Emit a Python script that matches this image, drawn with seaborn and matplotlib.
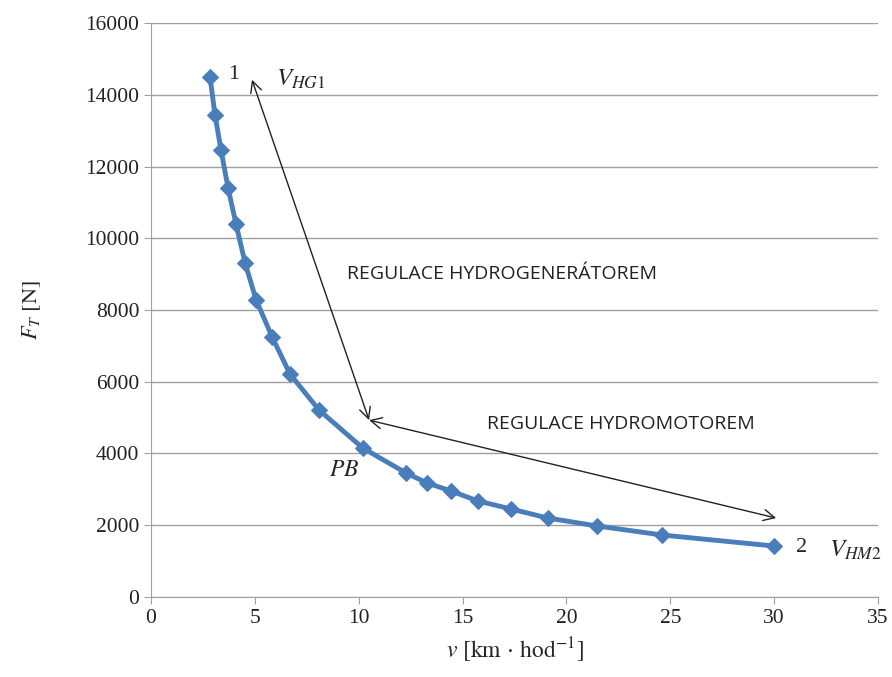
import matplotlib
matplotlib.use('Agg')
import matplotlib.pyplot as plt
import seaborn as sns
import pandas as pd

# rychlost v [km/h] a tazna sila F_T [N]
v = [2.84, 3.08, 3.37, 3.71, 4.09, 4.53, 5.06, 5.83, 6.69, 8.09, 10.2,
     12.28, 13.29, 14.44, 15.74, 17.33, 19.11, 21.47, 24.6, 30.0]
ft = [14500, 13440, 12460, 11400, 10400, 9310, 8280, 7250, 6215, 5210, 4150,
      3456, 3178, 2955, 2676, 2453, 2200, 1980, 1728, 1420]

arrow_hg = [(10.5, 4930), (4.86, 14420)]
arrow_hm = [(10.5, 4930), (30.1, 2200)]

sns.set_style('white')
plt.rcParams['mathtext.fontset'] = 'stix'
plt.rcParams['font.family'] = ['Liberation Serif', 'DejaVu Serif']

df = pd.DataFrame({'v': v, 'F': ft})

fig = plt.figure(figsize=(8.92, 6.77), dpi=100)
ax = fig.add_axes([0.1693, 0.1182, 0.815, 0.8478])

sns.lineplot(data=df, x='v', y='F', ax=ax, color='#4a7ebb', linewidth=3.5,
             marker='D', markersize=8, markeredgecolor='#4a7ebb')

ax.set_xlim(0, 35)
ax.set_ylim(0, 16000)
ax.set_xticks(range(0, 36, 5))
ax.set_yticks(range(0, 16001, 2000))
ax.yaxis.grid(True, color='#a0a0a0', linewidth=1)
ax.xaxis.grid(False)
for s in ['top', 'right']:
    ax.spines[s].set_visible(False)
for s in ['left', 'bottom']:
    ax.spines[s].set_color('#a0a0a0')
ax.tick_params(axis='both', direction='out', length=5, color='#a0a0a0',
               labelsize=15.5, labelcolor='#222222', left=True, bottom=True)
ax.set_xlabel(r'$v\ \mathrm{[km\,\cdot\,hod^{-1}]}$', fontsize=17, labelpad=6)
ax.set_ylabel(r'$F_T\ \mathrm{[N]}$', fontsize=16, labelpad=30)

ax.annotate('', xy=arrow_hg[1], xytext=arrow_hg[0],
            arrowprops=dict(arrowstyle='<->', color='#222222', lw=1,
                            mutation_scale=20, shrinkA=0, shrinkB=0))
ax.annotate('', xy=arrow_hm[1], xytext=arrow_hm[0],
            arrowprops=dict(arrowstyle='<->', color='#222222', lw=1,
                            mutation_scale=20, shrinkA=0, shrinkB=0))

sans = ['Open Sans', 'DejaVu Sans']
ax.text(16.9, 9000, 'REGULACE HYDROGENERÁTOREM', fontsize=14,
        family=sans, ha='center', va='center', color='#222222')
ax.text(22.6, 4820, 'REGULACE HYDROMOTOREM', fontsize=14,
        family=sans, ha='center', va='center', color='#222222')

ax.text(4.0, 14560, '1', fontsize=16, ha='center', va='center')
ax.text(7.2, 14420, r'$V_{HG1}$', fontsize=18, ha='center', va='center')
ax.text(9.3, 3530, r'$PB$', fontsize=17, ha='center', va='center')
ax.text(31.3, 1380, '2', fontsize=16, ha='center', va='center')
ax.text(33.9, 1300, r'$V_{HM2}$', fontsize=18, ha='center', va='center',
        clip_on=False)

fig.savefig('out.png', dpi=100)
